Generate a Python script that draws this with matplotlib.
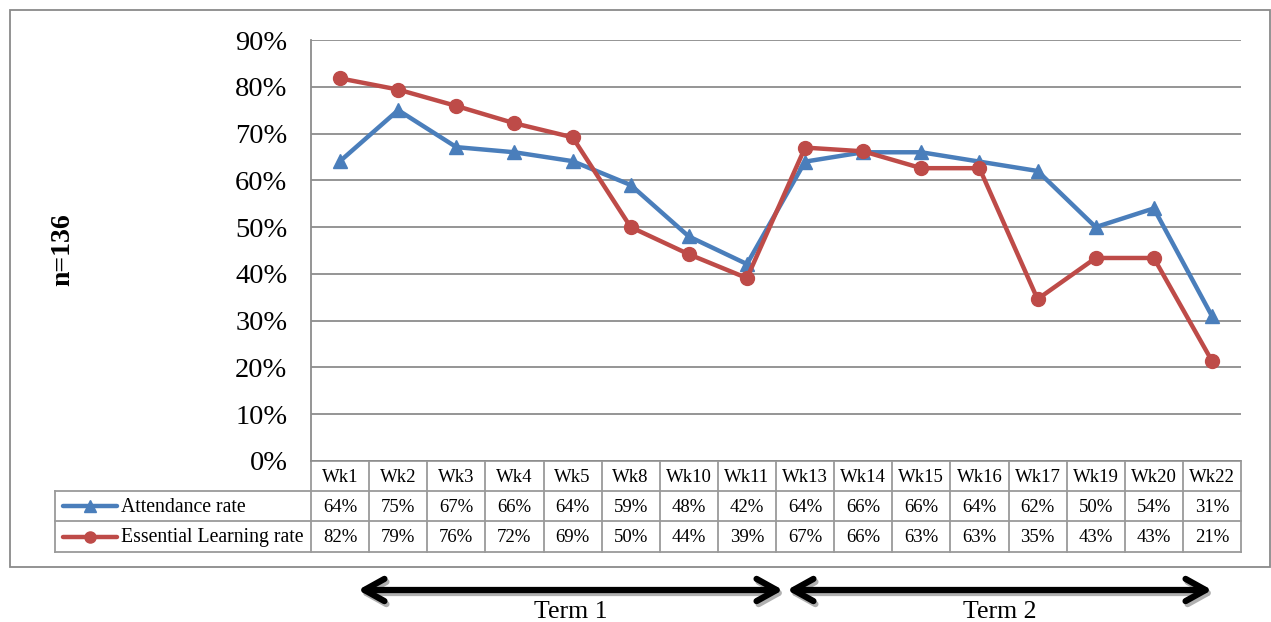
import matplotlib
matplotlib.use("Agg")
import matplotlib.pyplot as plt
from matplotlib.patches import Rectangle, FancyArrowPatch

weeks = ["Wk1", "Wk2", "Wk3", "Wk4", "Wk5", "Wk8", "Wk10", "Wk11",
         "Wk13", "Wk14", "Wk15", "Wk16", "Wk17", "Wk19", "Wk20", "Wk22"]
attendance = [64.1, 75.0, 67.1, 66.0, 64.1, 59.0, 48.0, 42.1,
              64.0, 66.0, 66.0, 64.0, 62.0, 50.0, 54.0, 31.0]
essential = [81.8, 79.4, 75.9, 72.2, 69.2, 50.0, 44.2, 39.1,
             67.0, 66.2, 62.6, 62.6, 34.6, 43.4, 43.4, 21.4]
series_names = ["Attendance rate", "Essential Learning rate"]
yticks = [0, 10, 20, 30, 40, 50, 60, 70, 80, 90]
terms = ["Term 1", "Term 2"]
n_label = "n=136"

BLUE = "#4A7EBB"
RED = "#BE4B48"
GRID = "#8c8c8c"
FONT = "Liberation Serif"

W, H = 1271, 622
fig = plt.figure(figsize=(W / 100, H / 100), dpi=100)

# overlay in pixel coordinates
ov = fig.add_axes([0, 0, 1, 1])
ov.set_xlim(0, W)
ov.set_ylim(H, 0)
ov.axis("off")

# outer border
ov.add_patch(Rectangle((10, 10), 1260, 557, fill=False, ec="#8a8a8a", lw=1.3))

PL, PR, PT, PB = 311, 1241, 40, 461
ax = fig.add_axes([PL / W, 1 - PB / H, (PR - PL) / W, (PB - PT) / H])
n = len(weeks)
x = list(range(n))
ax.set_xlim(-0.5, n - 0.5)
ax.set_ylim(0, 90)
for s in ["top", "right", "bottom"]:
    ax.spines[s].set_visible(False)
ax.spines["left"].set_color(GRID)
ax.spines["left"].set_linewidth(1.3)
ax.set_yticks(yticks)
ax.set_yticklabels([f"{v}%" for v in yticks], fontfamily=FONT, fontsize=20.5)
ax.tick_params(axis="y", length=0, pad=17)
ax.set_xticks([])
ax.yaxis.grid(True, color=GRID, lw=1.3)
ax.set_axisbelow(True)
ax.patch.set_alpha(0)

ax.plot(x, attendance, color=BLUE, lw=3.2, marker="^", ms=10, zorder=3,
        clip_on=False)
ax.plot(x, essential, color=RED, lw=3.2, marker="o", ms=10, zorder=4,
        clip_on=False)

# data table
colw = (PR - PL) / n
TL = 55
rows_y = [461, 491, 521, 552]
lc = "#9a9a9a"
ov.plot([PL, PR], [rows_y[0], rows_y[0]], color=lc, lw=1.3)
ov.plot([TL, PR], [rows_y[1], rows_y[1]], color=lc, lw=1.3)
ov.plot([TL, PR], [rows_y[2], rows_y[2]], color=lc, lw=1.3)
ov.plot([TL, PR], [rows_y[3], rows_y[3]], color=lc, lw=1.3)
ov.plot([TL, TL], [rows_y[1], rows_y[3]], color=lc, lw=1.3)
for i in range(n + 1):
    xx = PL + i * colw
    ov.plot([xx, xx], [rows_y[0], rows_y[3]], color=lc, lw=1.3)

TFS = 13.5
for i, wk in enumerate(weeks):
    cx = PL + (i + 0.5) * colw
    ov.text(cx, (rows_y[0] + rows_y[1]) / 2 + 1, wk, ha="center", va="center",
            fontfamily=FONT, fontsize=TFS)
    ov.text(cx, (rows_y[1] + rows_y[2]) / 2 + 1, f"{attendance[i]:.0f}%",
            ha="center", va="center", fontfamily=FONT, fontsize=TFS)
    ov.text(cx, (rows_y[2] + rows_y[3]) / 2 + 1, f"{essential[i]:.0f}%",
            ha="center", va="center", fontfamily=FONT, fontsize=TFS)

for r, (name, col, mk) in enumerate(zip(series_names, [BLUE, RED], ["^", "o"])):
    yc = (rows_y[r + 1] + rows_y[r + 2]) / 2
    ov.plot([63, 117], [yc, yc], color=col, lw=3.2, solid_capstyle="round")
    ov.plot([90], [yc], marker=mk, color=col, ms=8)
    ov.text(121, yc + 1, name, ha="left", va="center", fontfamily=FONT,
            fontsize=14.2)

# n label
ov.text(63, 250, n_label, rotation=90, ha="center", va="center",
        fontfamily=FONT, fontsize=20, fontweight="bold")

# term arrows
arrows = [(358, 783), (787, 1212)]
for (x0, x1), label in zip(arrows, terms):
    sh = FancyArrowPatch((x0 + 2, 593), (x1 + 2, 593),
                         arrowstyle="<->,head_length=9,head_width=5",
                         color="#b0b0b0", lw=4.5, mutation_scale=1.6,
                         shrinkA=0, shrinkB=0)
    ov.add_patch(sh)
    ar = FancyArrowPatch((x0, 590), (x1, 590),
                         arrowstyle="<->,head_length=9,head_width=5",
                         color="black", lw=4.5, mutation_scale=1.6,
                         shrinkA=0, shrinkB=0)
    ov.add_patch(ar)
    ov.text((x0 + x1) / 2, 612, label, ha="center", va="center",
            fontfamily=FONT, fontsize=18.5)

fig.savefig("out.png", dpi=100)
